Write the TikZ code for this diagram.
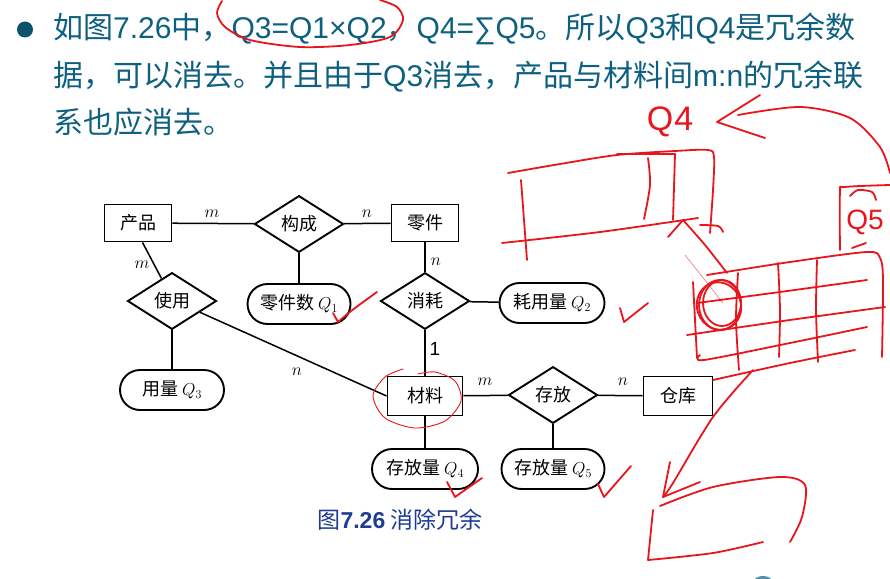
\documentclass[tikz,border=0pt]{standalone}
\usepackage{fontspec}
\setmainfont{Liberation Sans}
\newfontfamily\cjk{Noto Sans CJK SC}
\usetikzlibrary{shapes.geometric, shapes.misc, positioning, calc}
\definecolor{slideteal}{RGB}{14,96,128}
\definecolor{captionblue}{RGB}{30,60,150}
\definecolor{inkred}{RGB}{232,22,28}
\newcommand{\erfont}{\cjk\fontsize{18}{20}\selectfont}
\newcommand{\slidefont}{\cjk\fontsize{30}{32}\selectfont}
\newcommand{\en}[1]{{\rmfamily #1}}
\tikzset{
	entity/.style={rectangle, draw=black, line width=1.9pt, fill=white,
		minimum width=67pt, minimum height=37pt, inner sep=2pt, font=\erfont},
	relation/.style={diamond, draw=black, line width=1.9pt, fill=white,
		minimum width=89pt, minimum height=52pt, inner sep=1pt, font=\erfont},
	attrib/.style={rounded rectangle, draw=black, line width=1.9pt, fill=white,
		minimum width=107pt, minimum height=40pt, inner sep=2pt, font=\erfont},
	erline/.style={line width=1.5pt},
	card/.style={font=\fontsize{19}{19}\selectfont},
	slidetext/.style={anchor=base west, text=slideteal, font=\slidefont, inner sep=0pt},
	ink/.style={draw=inkred, line width=1.8pt, line cap=round, line join=round},
	thinink/.style={draw=inkred, line width=0.9pt, line cap=round},
	inkword/.style={text=inkred, font=\fontsize{34}{34}\selectfont}
}

\begin{document}
\begin{tikzpicture}[x=1pt, y=-1pt]
	\fill[white] (0,0) rectangle (890,578);
	\useasboundingbox (0,0) rectangle (890,578);

	% slide text
	\fill[slideteal!85!black] (25,29.5) circle (8);
	\node[slidetext] (line1) at (53,39)
	{如图\en{7.26}中，\en{Q3=Q1×Q2}，\en{Q4=∑Q5}。所以\en{Q3}和\en{Q4}是冗余数};
	\node[slidetext] (line2) at (53,86)
	{据，可以消去。并且由于\en{Q3}消去，产品与材料间\en{m:n}的冗余联};
	\node[slidetext] (line3) at (53,133) {系也应消去。};

	% E-R diagram
	\node[entity] (prod) at (138,223) {产品};
	\node[relation] (form) at (299,224) {构成};
	\node[entity] (part) at (425,223) {零件};
	\node[relation] (use) at (172,301) {使用};
	\node[attrib] (q1) at (299,304) {零件数 $Q_1$};
	\node[relation] (cons) at (425,301) {消耗};
	\node[attrib, minimum width=109pt] (q2) at (552,303) {耗用量 $Q_2$};
	\node[attrib, minimum width=108pt] (q3) at (172,390) {用量 $Q_3$};
	\node[entity, minimum width=75pt, minimum height=39pt] (mat) at (425,396) {材料};
	\node[relation] (store) at (553,395) {存放};
	\node[entity, minimum width=69pt, minimum height=39pt] (ware) at (678,396) {仓库};
	\node[attrib, minimum width=110pt] (q4) at (425,469) {存放量 $Q_4$};
	\node[attrib] (q5) at (553,469) {存放量 $Q_5$};

	\draw[erline] (prod) -- (form);
	\draw[erline] (form) -- (part);
	\draw[erline] (prod.-77) -- (use.115);
	\draw[erline] (form) -- (q1);
	\draw[erline] (part) -- (cons);
	\draw[erline] (cons) -- (q2);
	\draw[erline] (cons) -- (mat);
	\draw[erline] (use) -- (q3);
	\draw[erline] (use.-22) -- (mat.west);
	\draw[erline] (mat) -- (store);
	\draw[erline] (store) -- (ware);
	\draw[erline] (mat) -- (q4);
	\draw[erline] (store) -- (q5);

	\node[card] (c1) at (212,214) {$m$};
	\node[card] (c2) at (367,214) {$n$};
	\node[card] (c3) at (142,265) {$m$};
	\node[card] (c4) at (436,262) {$n$};
	\node[card] (c5) at (435,349) {1};
	\node[card] (c6) at (297,372) {$n$};
	\node[card] (c7) at (485,382) {$m$};
	\node[card] (c8) at (623,382) {$n$};

	\node[text=captionblue, font=\cjk\fontsize{23}{23}\selectfont] (cap) at (400,520)
	{图{\rmfamily\bfseries 7.26} 消除冗余};

	% red handwriting
	\draw[ink] plot[smooth] coordinates {(222,1) (217,13) (225,27) (250,40) (300,47)
		(350,45) (390,37) (403,20) (397,7) (380,0)};
	\draw[ink] (333,313) -- (338,322) .. controls (352,310) .. (377,292);
	\draw[ink] (620,308) -- (624,322) -- (648,303);
	\draw[ink] (447,482) -- (455,497) -- (482,478);
	\draw[ink] (598,484) -- (604,497) -- (631,466);
	\draw[thinink] plot[smooth] coordinates {(403,369) (385,377) (373,396) (385,418)
		(415,428) (445,421) (461,401) (455,381) (435,372) (418,374)};

	\node[inkword] (hq4) at (670,122) {Q\kern1pt4};
	\draw[ink] plot[smooth] coordinates {(890,173) (880,147) (850,118) (800,107) (738,115)};
	\draw[ink] (760,95) -- (717,122) -- (765,138);

	\draw[ink] plot[smooth] coordinates {(508,173) (560,164) (617,155) (675,151)
		(708,150) (714,157) (713,190) (710,233)};
	\draw[ink] (617,154) -- (675,154) -- (673,220);
	\draw[ink] plot[smooth] coordinates {(648,158) (650,185) (644,219)};
	\draw[ink] (521,180) -- (527,260);
	\draw[ink] plot[smooth] coordinates {(502,243) (600,232) (698,218)};
	\draw[ink] plot[smooth] coordinates {(700,225) (718,226) (723,232)};
	\draw[ink] (668,237) -- (683,220);
	\draw[ink] plot[smooth] coordinates {(683,220) (705,245) (727,273)};
	\draw[inkred!60, line width=0.6pt] (685,255) -- (723,303);

	\draw[ink] plot[smooth] coordinates {(707,275) (790,262) (867,252) (880,258)
		(883,280) (882,357)};
	\draw[ink] plot[smooth] coordinates {(697,303) (780,292) (867,280)};
	\draw[ink] plot[smooth] coordinates {(687,335) (790,320) (885,307)};
	\draw[ink] plot[smooth] coordinates {(700,355) (704,360) (790,343) (867,327)};
	\draw[ink] plot[smooth] coordinates {(713,380) (790,363) (855,350)};
	\draw[ink] plot[smooth] coordinates {(693,282) (697,358)};
	\draw[ink] plot[smooth] coordinates {(738,273) (736,320) (739,370)};
	\draw[ink] plot[smooth] coordinates {(778,263) (780,310) (779,357)};
	\draw[ink] plot[smooth] coordinates {(817,260) (816,310) (818,362)};
	\draw[ink] (720,305) ellipse [x radius=21, y radius=25];
	\draw[ink] (722,303) ellipse [x radius=19, y radius=23];
	\draw[ink, rotate around={20:(719,306)}] (719,306) ellipse [x radius=22, y radius=24];

	\draw[ink] plot[smooth] coordinates {(840,250) (840,192) (845,187) (890,185)};
	\draw[ink] plot[smooth] coordinates {(850,196) (858,190) (872,192) (876,200)};
	\node[inkword, font=\fontsize{28}{28}\selectfont] (hq5) at (865,222) {Q5};
	\draw[ink] (852,248) -- (866,243);

	\draw[ink] plot[smooth] coordinates {(753,370) (713,417) (673,483) (663,497)};
	\draw[ink] (670,462) -- (663,497) -- (700,482);
	\draw[ink] plot[smooth] coordinates {(660,506) (713,487) (780,477) (805,485)
		(802,517) (790,542)};
	\draw[ink] plot[smooth] coordinates {(648,560) (713,553) (763,542)};
	\draw[ink] (653,510) -- (648,560);

	\fill[slideteal!70] (763,590) circle (14);
\end{tikzpicture}
\end{document}
